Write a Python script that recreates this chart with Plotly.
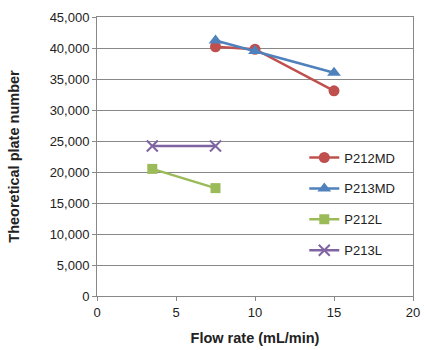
import plotly.graph_objects as go

series_names = ["P212MD", "P213MD", "P212L", "P213L"]
x_p212md = [7.5, 10, 15]
y_p212md = [40200, 39800, 33100]
x_p213md = [7.5, 10, 15]
y_p213md = [41200, 39500, 36000]
x_p212l = [3.5, 7.5]
y_p212l = [20500, 17400]
x_p213l = [3.5, 7.5]
y_p213l = [24200, 24200]

colors = ["#C0504D", "#4F81BD", "#9BBB59", "#8064A2"]
symbols = ["circle", "triangle-up", "square", "x-thin"]
sizes = [11, 12, 10, 11]
xs = [x_p212md, x_p213md, x_p212l, x_p213l]
ys = [y_p212md, y_p213md, y_p212l, y_p213l]

fig = go.Figure()
for i, name in enumerate(series_names):
    mk = dict(color=colors[i], size=sizes[i], symbol=symbols[i])
    if symbols[i] == "x-thin":
        mk.update(line=dict(color=colors[i], width=2))
    fig.add_trace(go.Scatter(
        x=xs[i], y=ys[i], name=name, mode="lines+markers",
        line=dict(color=colors[i], width=2.5),
        marker=mk, legendgroup=name,
    ))

fig.update_layout(
    width=425, height=350,
    margin=dict(l=97, r=12, t=17, b=54),
    paper_bgcolor="white", plot_bgcolor="white",
    font=dict(family="Liberation Sans, Arial, sans-serif", size=13, color="#222"),
    legend=dict(x=0.656, y=0.55, xanchor="left", yanchor="top",
                bgcolor="rgba(0,0,0,0)", tracegroupgap=11,
                font=dict(size=13), itemwidth=30),
    showlegend=True,
)
fig.update_xaxes(
    range=[0, 20], tickvals=[0, 5, 10, 15, 20], showgrid=False,
    showline=True, linecolor="#888", linewidth=1, mirror=True,
    ticks="outside", ticklen=4, tickcolor="#888", automargin=False,
    title=dict(text="<b>Flow rate (mL/min)</b>", font=dict(size=14.5), standoff=14),
    zeroline=False,
)
fig.update_yaxes(
    range=[0, 45000], tickvals=list(range(0, 45001, 5000)),
    tickformat=",d", showgrid=True, gridcolor="#888", gridwidth=1,
    showline=True, linecolor="#888", linewidth=1, mirror=True,
    ticks="outside", ticklen=4, tickcolor="#888", automargin=False,
    title=dict(text="<b>Theoretical plate number</b>", font=dict(size=14.5), standoff=26),
    zeroline=False,
)
fig.write_html("out.html")
